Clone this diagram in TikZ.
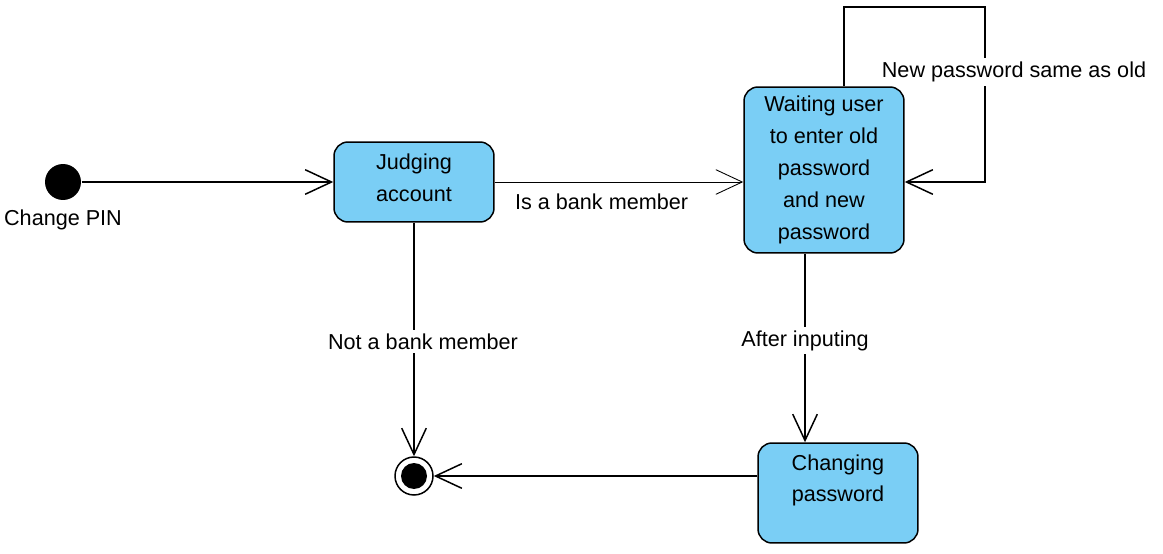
\documentclass[tikz,border=0pt]{standalone}
\usepackage{fontspec}
\setmainfont{Liberation Sans}
\usetikzlibrary{arrows.meta}
\definecolor{statefill}{RGB}{122,206,245}
\begin{document}
\begin{tikzpicture}[x=0.02cm, y=-0.02cm, line width=0.85pt, >={Straight Barb[length=15pt,width=14pt]},
state node/.style={rectangle,rounded corners=0.28cm,draw,fill=statefill,minimum width=3.2cm,align=center,font=\fontsize{12.3}{18.1}\selectfont},
lbl/.style={font=\fontsize{12.3}{14}\selectfont,inner sep=2pt}]%fill=white,
\useasboundingbox (0,0) rectangle (1163,554);
\begin{scope}
\node[circle,fill=black,minimum size=0.72cm,inner sep=0pt,label={[lbl,label distance=3pt]below:Change PIN}] (init) at (63,182) {};%start
\node[state node,minimum height=1.6cm,text depth=5pt] (judge) at (414,182) {Judging\\account};
\node[state node,minimum height=3.32cm] (wait) at (824,170) {Waiting user\\to enter old\\password\\and new\\password};
\node[state node,minimum height=2cm,text depth=17pt] (chg) at (838,493) {Changing\\password};
\node[circle,draw,minimum size=0.76cm,inner sep=0pt,path picture={\fill (path picture bounding box.center) circle (0.26cm);}] (fin) at (414,476) {};%end
\coordinate (loop) at (985,7);
\end{scope}
\begin{scope}
\draw[->] (init) -- (judge);
\draw[->,line width=0.5pt] (judge) -- (wait.west |- judge) node[lbl,below,pos=0.43,yshift=-0.15cm]{Is a bank member};
\draw[->] (judge) -- (fin) node[lbl,fill=white,pos=0.51,xshift=0.18cm]{Not a bank member};
\draw[->] ([xshift=-0.38cm]wait.south) -- ([xshift=-0.38cm]wait.south |- chg.north) node[lbl,fill=white,pos=0.46]{After inputing};
\draw[->] (chg.west |- fin) -- (fin);
\draw[->] ([xshift=0.4cm]wait.north) |- (loop) |- (wait.east |- judge);
\node[lbl,fill=white] (same) at (1014,72) {New password same as old};
\end{scope}
\end{tikzpicture}
\end{document}
